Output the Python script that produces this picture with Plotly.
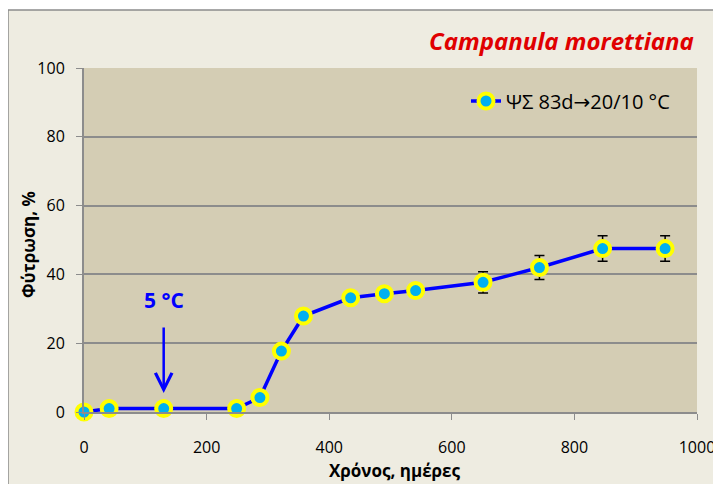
import plotly.graph_objects as go

days = [0, 41, 130, 249, 287, 322, 358, 435, 490, 541, 651, 743, 846, 948]
germination = [0, 1, 1, 1, 4.2, 17.7, 27.9, 33.2, 34.4, 35.3, 37.7, 42, 47.5, 47.5]
errors = [0, 0, 0, 0, 0, 0, 0, 0, 0, 0, 3.1, 3.5, 3.7, 3.7]
series_name = "ΨΣ 83d<span style=\"font-family:DejaVu Sans\">→</span>20/10 °C"
title_text = "Campanula morettiana"
x_title = "Χρόνος, ημέρες"
y_title = "Φύτρωση, %"
x_ticks = [0, 200, 400, 600, 800, 1000]
y_ticks = [0, 20, 40, 60, 80, 100]

font_family = "Open Sans, Liberation Sans, DejaVu Sans, sans-serif"

fig = go.Figure()
fig.add_trace(go.Scatter(
    x=days, y=germination, mode="lines+markers", name=series_name,
    line=dict(color="#0000FF", width=3.5),
    marker=dict(size=15, color="#00B0F0", line=dict(color="#FFFF00", width=4)),
    error_y=dict(type="data", array=errors, visible=True, color="black", thickness=1.5, width=5),
    cliponaxis=False,
))

OFF = 8  # page body margin
W, H = 721, 484
# plot area in screen pixels
sx0, sx1, sy0, sy1 = 84, 697, 68, 412
ml = sx0 - OFF
mt = sy0 - OFF
mr = W - (sx1 - OFF)
mb = H - (sy1 - OFF)
pw, ph = W - ml - mr, H - mt - mb

def px_x(p):
    return (p - sx0) / pw

def px_y(p):
    return (sy1 - p) / ph

fig.add_shape(type="rect", xref="paper", yref="paper",
              x0=px_x(8), x1=px_x(760), y0=px_y(10), y1=px_y(520),
              fillcolor="#EEECE1", line=dict(color="#8C8C8C", width=1.5), layer="below")
fig.add_shape(type="rect", xref="paper", yref="paper",
              x0=0, x1=1, y0=0, y1=1,
              fillcolor="#D4CDB4", line=dict(width=0), layer="below")

fig.add_annotation(text="<b><i>" + title_text + "</i></b>", xref="paper", yref="paper",
                   x=px_x(696), y=px_y(40), xanchor="right", yanchor="middle",
                   showarrow=False, font=dict(color="#E00000", size=24, family=font_family))

fig.add_annotation(text="<b>5 °C</b>", x=130, y=32.5, xref="x", yref="y",
                   showarrow=False, font=dict(color="#0000FF", size=21, family=font_family))
fig.add_annotation(text="", x=130, y=5.5, ax=130, ay=25, xref="x", yref="y",
                   axref="x", ayref="y", showarrow=True, arrowhead=5, arrowsize=1.3,
                   arrowwidth=2.5, arrowcolor="#0000FF")

fig.add_annotation(text="<b>" + x_title + "</b>", xref="paper", yref="paper",
                   x=px_x(395), y=px_y(470), xanchor="center", yanchor="middle",
                   showarrow=False, font=dict(size=17, family=font_family))
fig.add_annotation(text="<b>" + y_title + "</b>", xref="paper", yref="paper",
                   x=px_x(28), y=px_y(244), xanchor="center", yanchor="middle",
                   textangle=-90, showarrow=False, font=dict(size=17, family=font_family))

fig.update_layout(
    width=W, height=H,
    margin=dict(l=ml, r=mr, t=mt, b=mb, autoexpand=False),
    paper_bgcolor="white",
    plot_bgcolor="#D4CDB4",
    font=dict(family=font_family, size=14, color="black"),
    showlegend=True,
    legend=dict(x=px_x(675), y=px_y(101), xanchor="right", yanchor="middle",
                bgcolor="rgba(0,0,0,0)", font=dict(size=20, family=font_family)),
    xaxis=dict(range=[0, 1000], tickvals=x_ticks, showgrid=False, zeroline=False,
               showline=True, linecolor="#8C8C8C", linewidth=2, ticks="outside",
               ticklen=6, tickcolor="#8C8C8C", tickfont=dict(size=16), automargin=False,
               ticklabelstandoff=14),
    yaxis=dict(range=[0, 100], tickvals=y_ticks, showgrid=True, gridcolor="#8C8C8C",
               gridwidth=1.5, zeroline=False, showline=True, linecolor="#8C8C8C",
               linewidth=2, ticks="outside", ticklen=6, tickcolor="#8C8C8C",
               tickfont=dict(size=16), automargin=False, ticklabelstandoff=8),
)

fig.write_html("out.html")
